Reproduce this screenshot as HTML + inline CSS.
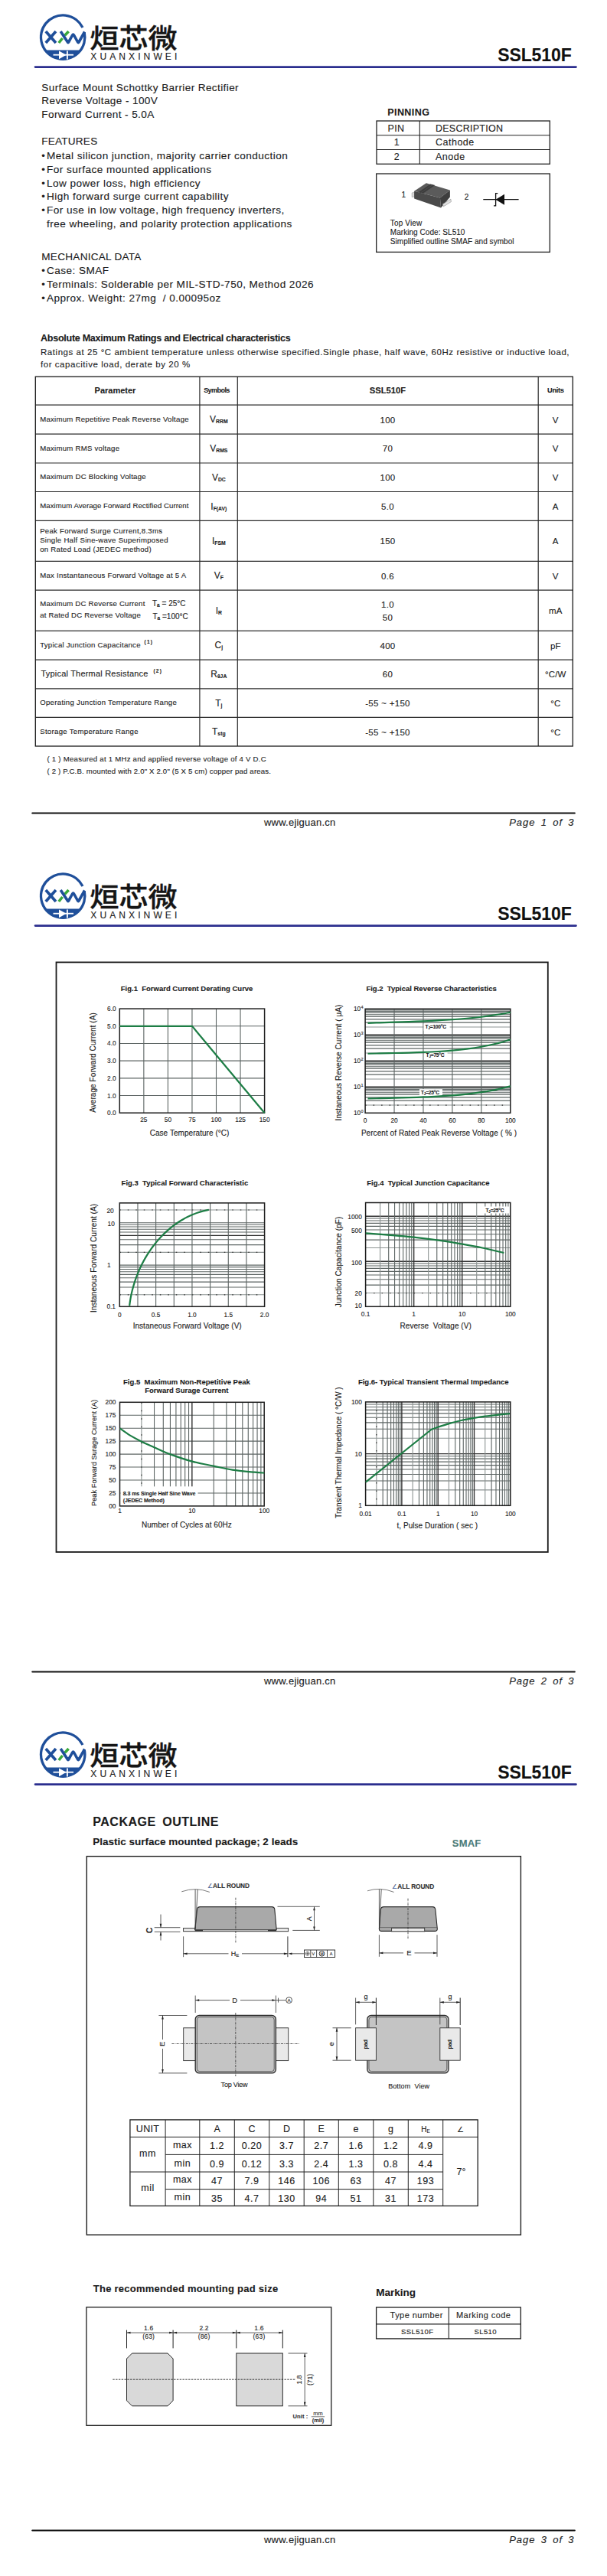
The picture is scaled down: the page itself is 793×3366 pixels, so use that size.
<!DOCTYPE html>
<html><head><meta charset="utf-8"><title>SSL510F</title>
<style>
html,body{margin:0;padding:0;background:#fff;}
body{width:793px;height:3366px;overflow:hidden;}
svg{display:block;font-family:'Liberation Sans', Arial, sans-serif;fill:#1c1c1c;}
text{stroke:#1c1c1c;stroke-width:0.12px;}
</style></head><body>
<svg width="793" height="1122" viewBox="0 0 793 1122"><path d="M58.93,65.40 A28.7,28.7 0 0 0 105.47,65.40 Z" fill="#1f4f9a"/>
<path d="M108.00,36.02 A28.7,28.7 0 1 0 110.27,42.63" fill="none" stroke="#1f4f9a" stroke-width="3.3"/>
<path d="M59.8,41 L73,56 M73,41 L59.8,56" stroke="#1f4f9a" stroke-width="3.7" fill="none"/>
<path d="M76.8,56 L81.6,50 M84.6,46.4 L89.6,41" stroke="#3aaa3c" stroke-width="3.6" fill="none"/>
<path d="M79.2,41 L88.4,55 Q88.9,56.2 89.6,55 L94.6,46 Q95.6,44.2 96.6,46 L101.6,55 Q102.3,56.2 103,55 L110.6,41.5" stroke="#1f4f9a" stroke-width="3.6" fill="none" stroke-linejoin="round"/>
<path d="M69.5,71.7 H96" stroke="#fff" stroke-width="1.8"/>
<path d="M77,66.6 L86.6,71.7 L77,77.2 Z" fill="#fff"/>
<path d="M87.9,66.4 V77.4" stroke="#fff" stroke-width="1.8"/>
<text transform="translate(117.3,63.2) scale(1.03,0.94)" font-size="37" font-weight="500" font-family="'Liberation Sans', 'Noto Sans CJK SC', sans-serif" fill="#151515" style="stroke:#151515;stroke-width:0.4px">烜芯微</text>
<text x="118.30" y="77.60" font-size="12.1" letter-spacing="4.05">XUANXINWEI</text>
<text x="650.20" y="79.70" font-size="23" font-weight="bold" letter-spacing="-0.1" fill="#111" style="stroke:#111">SSL510F</text>
<line x1="46.00" y1="87.60" x2="752.50" y2="87.60" stroke="#2b2e8e" stroke-width="2.6" stroke-linecap="round"/>
<text x="54.30" y="118.60" font-size="13.6" letter-spacing="0.38">Surface Mount Schottky Barrier Rectifier</text>
<text x="54.30" y="136.10" font-size="13.6" letter-spacing="0.38">Reverse Voltage - 100V</text>
<text x="54.30" y="153.60" font-size="13.6" letter-spacing="0.38">Forward Current - 5.0A</text>
<text x="54.30" y="189.40" font-size="13.6" letter-spacing="0.2">FEATURES</text>
<text x="54.30" y="207.60" font-size="13">•</text>
<text x="61.00" y="207.60" font-size="13.6" letter-spacing="0.45">Metal silicon junction, majority carrier conduction</text>
<text x="54.30" y="225.55" font-size="13">•</text>
<text x="61.00" y="225.55" font-size="13.6" letter-spacing="0.45">For surface mounted applications</text>
<text x="54.30" y="243.50" font-size="13">•</text>
<text x="61.00" y="243.50" font-size="13.6" letter-spacing="0.45">Low power loss, high efficiency</text>
<text x="54.30" y="261.45" font-size="13">•</text>
<text x="61.00" y="261.45" font-size="13.6" letter-spacing="0.45">High forward surge current capability</text>
<text x="54.30" y="279.40" font-size="13">•</text>
<text x="61.00" y="279.40" font-size="13.6" letter-spacing="0.45">For use in low voltage, high frequency inverters,</text>
<text x="61.00" y="297.35" font-size="13.6" letter-spacing="0.45">free wheeling, and polarity protection applications</text>
<text x="54.30" y="340.40" font-size="13.6" letter-spacing="0.25">MECHANICAL DATA</text>
<text x="54.30" y="358.20" font-size="13">•</text>
<text x="61.00" y="358.20" font-size="13.6" letter-spacing="0.45" xml:space="preserve">Case: SMAF</text>
<text x="54.30" y="376.00" font-size="13">•</text>
<text x="61.00" y="376.00" font-size="13.6" letter-spacing="0.45" xml:space="preserve">Terminals: Solderable per MIL-STD-750, Method 2026</text>
<text x="54.30" y="393.80" font-size="13">•</text>
<text x="61.00" y="393.80" font-size="13.6" letter-spacing="0.45" xml:space="preserve">Approx. Weight: 27mg  / 0.00095oz</text>
<text x="506.20" y="150.90" font-size="12.5" font-weight="bold" letter-spacing="0.45">PINNING</text>
<rect x="492.00" y="158.00" width="226.30" height="56.30" stroke="#222" stroke-width="1.3" fill="none" />
<line x1="492.00" y1="176.70" x2="718.30" y2="176.70" stroke="#222" stroke-width="1.1" />
<line x1="492.00" y1="195.50" x2="718.30" y2="195.50" stroke="#222" stroke-width="1.1" />
<line x1="548.30" y1="158.00" x2="548.30" y2="214.30" stroke="#222" stroke-width="1.1" />
<text x="506.50" y="172.30" font-size="12.5" letter-spacing="0.4">PIN</text>
<text x="569.00" y="172.30" font-size="12.5" letter-spacing="0.25">DESCRIPTION</text>
<text x="514.80" y="190.40" font-size="12.5">1</text>
<text x="569.00" y="190.40" font-size="12.5" letter-spacing="0.5">Cathode</text>
<text x="514.80" y="209.00" font-size="12.5">2</text>
<text x="569.00" y="209.00" font-size="12.5" letter-spacing="0.5">Anode</text>
<rect x="491.70" y="227.00" width="226.60" height="102.40" stroke="#222" stroke-width="1.3" fill="none" />
<text x="524.50" y="258.40" font-size="10">1</text>
<text x="606.80" y="260.80" font-size="10">2</text>
<polygon points="538.20,252.00 541.50,251.00 541.50,257.00 538.20,257.50" fill="#d8d8d8" stroke="#9a9a9a" stroke-width="0.6"/>
<polygon points="541.10,249.80 556.90,239.20 587.90,248.40 574.90,258.40" fill="#5b5b5b"/>
<polygon points="541.10,249.80 574.90,258.40 576.00,271.50 541.10,259.60" fill="#4a4a4a"/>
<polygon points="574.90,258.40 587.90,248.40 587.90,257.50 576.00,271.50" fill="#3e3e3e"/>
<polygon points="546.51,251.18 562.31,240.58 568.39,242.12 552.59,252.72" fill="#3d3d3d"/>
<line x1="549.55" y1="251.95" x2="565.35" y2="241.35" stroke="#555" stroke-width="0.6"/>
<polygon points="578.30,266.80 588.90,260.20 589.40,263.60 579.40,269.80" fill="#e2e2e2" stroke="#8a8a8a" stroke-width="0.6"/>
<line x1="631.30" y1="260.70" x2="677.60" y2="260.70" stroke="#111" stroke-width="1.3" />
<path d="M647.5,260.7 L659,253.8 L659,267.8 Z" fill="#111"/>
<path d="M650.3,252.6 L647.6,252.6 L647.6,268.8 L645,268.8" fill="none" stroke="#111" stroke-width="1.3"/>
<text x="509.80" y="294.90" font-size="10" letter-spacing="0.15">Top View</text>
<text x="509.80" y="306.90" font-size="10" letter-spacing="0.05">Marking Code: SL510</text>
<text x="509.80" y="319.20" font-size="10" letter-spacing="0.05">Simplified outline SMAF and symbol</text>
<text x="53.00" y="446.10" font-size="12.6" font-weight="bold" letter-spacing="-0.3">Absolute Maximum Ratings and Electrical characteristics</text>
<text x="53.00" y="464.20" font-size="11.5" letter-spacing="0.55">Ratings at 25 °C ambient temperature unless otherwise specified.Single phase, half wave, 60Hz resistive or inductive load,</text>
<text x="53.00" y="480.00" font-size="11.5" letter-spacing="0.55">for capacitive load, derate by 20 %</text>
<line x1="46.30" y1="529.20" x2="748.30" y2="529.20" stroke="#2a2a2a" stroke-width="1.2" />
<line x1="46.30" y1="567.20" x2="748.30" y2="567.20" stroke="#2a2a2a" stroke-width="1.2" />
<line x1="46.30" y1="605.00" x2="748.30" y2="605.00" stroke="#2a2a2a" stroke-width="1.2" />
<line x1="46.30" y1="642.50" x2="748.30" y2="642.50" stroke="#2a2a2a" stroke-width="1.2" />
<line x1="46.30" y1="680.30" x2="748.30" y2="680.30" stroke="#2a2a2a" stroke-width="1.2" />
<line x1="46.30" y1="733.30" x2="748.30" y2="733.30" stroke="#2a2a2a" stroke-width="1.2" />
<line x1="46.30" y1="771.20" x2="748.30" y2="771.20" stroke="#2a2a2a" stroke-width="1.2" />
<line x1="46.30" y1="824.30" x2="748.30" y2="824.30" stroke="#2a2a2a" stroke-width="1.2" />
<line x1="46.30" y1="862.10" x2="748.30" y2="862.10" stroke="#2a2a2a" stroke-width="1.2" />
<line x1="46.30" y1="899.80" x2="748.30" y2="899.80" stroke="#2a2a2a" stroke-width="1.2" />
<line x1="46.30" y1="937.40" x2="748.30" y2="937.40" stroke="#2a2a2a" stroke-width="1.2" />
<line x1="260.90" y1="492.20" x2="260.90" y2="975.00" stroke="#2a2a2a" stroke-width="1.2" />
<line x1="310.30" y1="492.20" x2="310.30" y2="975.00" stroke="#2a2a2a" stroke-width="1.2" />
<line x1="703.20" y1="492.20" x2="703.20" y2="975.00" stroke="#2a2a2a" stroke-width="1.2" />
<rect x="46.30" y="492.20" width="702.00" height="482.80" stroke="#1a1a1a" stroke-width="1.3" fill="none" />
<text x="150.50" y="514.30" font-size="11" font-weight="bold" text-anchor="middle">Parameter</text>
<text x="283.00" y="513.20" font-size="9" font-weight="bold" letter-spacing="-0.55" text-anchor="middle">Symbols</text>
<text x="506.50" y="514.30" font-size="11.2" font-weight="bold" text-anchor="middle">SSL510F</text>
<text x="725.80" y="513.30" font-size="9.2" font-weight="bold" letter-spacing="-0.3" text-anchor="middle">Units</text>
<text x="52.20" y="550.80" font-size="9.6" letter-spacing="0.26">Maximum Repetitive Peak Reverse Voltage</text>
<text x="285.80" y="552.40" text-anchor="middle" font-size="12">V<tspan font-size="6.8" dy="1" font-weight="bold">RRM</tspan></text>
<text x="506.50" y="552.50" font-size="11.5" letter-spacing="0.3" text-anchor="middle">100</text>
<text x="725.80" y="552.50" font-size="11.5" letter-spacing="0.2" text-anchor="middle">V</text>
<text x="52.20" y="588.70" font-size="9.6" letter-spacing="0.26">Maximum RMS voltage</text>
<text x="285.80" y="590.30" text-anchor="middle" font-size="12">V<tspan font-size="6.8" dy="1" font-weight="bold">RMS</tspan></text>
<text x="506.50" y="590.40" font-size="11.5" letter-spacing="0.3" text-anchor="middle">70</text>
<text x="725.80" y="590.40" font-size="11.5" letter-spacing="0.2" text-anchor="middle">V</text>
<text x="52.20" y="626.35" font-size="9.6" letter-spacing="0.26">Maximum DC Blocking Voltage</text>
<text x="285.80" y="627.95" text-anchor="middle" font-size="12">V<tspan font-size="6.8" dy="1" font-weight="bold">DC</tspan></text>
<text x="506.50" y="628.05" font-size="11.5" letter-spacing="0.3" text-anchor="middle">100</text>
<text x="725.80" y="628.05" font-size="11.5" letter-spacing="0.2" text-anchor="middle">V</text>
<text x="52.20" y="664.00" font-size="9.6" letter-spacing="0.06">Maximum Average Forward Rectified Current</text>
<text x="285.80" y="665.60" text-anchor="middle" font-size="12">I<tspan font-size="6.8" dy="1" font-weight="bold">F(AV)</tspan></text>
<text x="506.50" y="665.70" font-size="11.5" letter-spacing="0.3" text-anchor="middle">5.0</text>
<text x="725.80" y="665.70" font-size="11.5" letter-spacing="0.2" text-anchor="middle">A</text>
<text x="52.20" y="697.00" font-size="9.6" letter-spacing="0.27">Peak Forward Surge Current,8.3ms</text>
<text x="52.20" y="709.10" font-size="9.6" letter-spacing="0.27">Single Half Sine-wave Superimposed</text>
<text x="52.20" y="721.20" font-size="9.6" letter-spacing="0.27">on Rated Load (JEDEC method)</text>
<text x="285.80" y="711.00" text-anchor="middle" font-size="12">I<tspan font-size="6.8" dy="1" font-weight="bold">FSM</tspan></text>
<text x="506.50" y="711.10" font-size="11.5" letter-spacing="0.3" text-anchor="middle">150</text>
<text x="725.80" y="711.10" font-size="11.5" letter-spacing="0.2" text-anchor="middle">A</text>
<text x="52.20" y="754.85" font-size="9.6" letter-spacing="0.26">Max Instantaneous Forward Voltage at 5 A</text>
<text x="285.80" y="756.45" text-anchor="middle" font-size="12">V<tspan font-size="6.8" dy="1" font-weight="bold">F</tspan></text>
<text x="506.50" y="756.55" font-size="11.5" letter-spacing="0.3" text-anchor="middle">0.6</text>
<text x="725.80" y="756.55" font-size="11.5" letter-spacing="0.2" text-anchor="middle">V</text>
<text x="52.20" y="792.40" font-size="9.6" letter-spacing="0.24">Maximum DC Reverse Current</text>
<text x="52.20" y="806.90" font-size="9.6" letter-spacing="0.22">at Rated DC Reverse Voltage</text>
<text x="285.80" y="801.95" text-anchor="middle" font-size="12">I<tspan font-size="6.8" dy="1" font-weight="bold">R</tspan></text>
<text x="506.50" y="794.30" font-size="11.5" letter-spacing="0.3" text-anchor="middle">1.0</text>
<text x="506.50" y="810.90" font-size="11.5" letter-spacing="0.3" text-anchor="middle">50</text>
<text x="725.80" y="802.05" font-size="11.5" letter-spacing="0.2" text-anchor="middle">mA</text>
<text x="52.20" y="845.80" font-size="9.6" letter-spacing="0.26">Typical Junction Capacitance</text>
<text x="285.80" y="847.40" text-anchor="middle" font-size="12">C<tspan font-size="6.8" dy="1" font-weight="bold">j</tspan></text>
<text x="506.50" y="847.50" font-size="11.5" letter-spacing="0.3" text-anchor="middle">400</text>
<text x="725.80" y="847.50" font-size="11.5" letter-spacing="0.2" text-anchor="middle">pF</text>
<text x="53.50" y="884.35" font-size="11" letter-spacing="0.2">Typical Thermal Resistance</text>
<text x="285.80" y="885.15" text-anchor="middle" font-size="12">R<tspan font-size="6.8" dy="1" font-weight="bold">θJA</tspan></text>
<text x="506.50" y="885.25" font-size="11.5" letter-spacing="0.3" text-anchor="middle">60</text>
<text x="725.80" y="885.25" font-size="11.5" letter-spacing="0.2" text-anchor="middle">°C/W</text>
<text x="52.20" y="921.20" font-size="9.6" letter-spacing="0.31">Operating Junction Temperature Range</text>
<text x="285.80" y="922.80" text-anchor="middle" font-size="12">T<tspan font-size="6.8" dy="1" font-weight="bold">j</tspan></text>
<text x="506.50" y="922.90" font-size="11.5" letter-spacing="0.3" text-anchor="middle">-55 ~ +150</text>
<text x="725.80" y="922.90" font-size="11.5" letter-spacing="0.2" text-anchor="middle">°C</text>
<text x="52.20" y="958.80" font-size="9.6" letter-spacing="0.31">Storage Temperature Range</text>
<text x="285.80" y="960.40" text-anchor="middle" font-size="12">T<tspan font-size="6.8" dy="1" font-weight="bold">stg</tspan></text>
<text x="506.50" y="960.50" font-size="11.5" letter-spacing="0.3" text-anchor="middle">-55 ~ +150</text>
<text x="725.80" y="960.50" font-size="11.5" letter-spacing="0.2" text-anchor="middle">°C</text>
<text x="199" y="792.4" font-size="10">T<tspan font-size="6.5" dy="1" font-weight="bold">a</tspan><tspan dy="-1"> = 25°C</tspan></text>
<text x="199.5" y="809" font-size="10">T<tspan font-size="6.5" dy="1" font-weight="bold">a</tspan><tspan dy="-1"> =100°C</tspan></text>
<text x="188.60" y="840.50" font-size="6.5" font-weight="bold" letter-spacing="-0.3">( 1 )</text>
<text x="200.50" y="878.80" font-size="6.5" font-weight="bold" letter-spacing="-0.3">( 2 )</text>
<text x="61.50" y="994.60" font-size="9.6" letter-spacing="0.25">( 1 ) Measured at 1 MHz and applied reverse voltage of 4 V D.C</text>
<text x="61.50" y="1010.60" font-size="9.6" letter-spacing="0.18">( 2 ) P.C.B. mounted with 2.0" X 2.0" (5 X 5 cm) copper pad areas.</text>
<line x1="42.30" y1="1062.50" x2="750.80" y2="1062.50" stroke="#111" stroke-width="2.2" stroke-linecap="round"/>
<text x="345.00" y="1079.20" font-size="13" letter-spacing="0.22">www.ejiguan.cn</text>
<text x="665.20" y="1078.60" font-size="13" letter-spacing="1.0" word-spacing="2.6" font-style="italic">Page 1 of 3</text></svg><svg width="793" height="1122" viewBox="0 0 793 1122"><path d="M58.93,65.40 A28.7,28.7 0 0 0 105.47,65.40 Z" fill="#1f4f9a"/>
<path d="M108.00,36.02 A28.7,28.7 0 1 0 110.27,42.63" fill="none" stroke="#1f4f9a" stroke-width="3.3"/>
<path d="M59.8,41 L73,56 M73,41 L59.8,56" stroke="#1f4f9a" stroke-width="3.7" fill="none"/>
<path d="M76.8,56 L81.6,50 M84.6,46.4 L89.6,41" stroke="#3aaa3c" stroke-width="3.6" fill="none"/>
<path d="M79.2,41 L88.4,55 Q88.9,56.2 89.6,55 L94.6,46 Q95.6,44.2 96.6,46 L101.6,55 Q102.3,56.2 103,55 L110.6,41.5" stroke="#1f4f9a" stroke-width="3.6" fill="none" stroke-linejoin="round"/>
<path d="M69.5,71.7 H96" stroke="#fff" stroke-width="1.8"/>
<path d="M77,66.6 L86.6,71.7 L77,77.2 Z" fill="#fff"/>
<path d="M87.9,66.4 V77.4" stroke="#fff" stroke-width="1.8"/>
<text transform="translate(117.3,63.2) scale(1.03,0.94)" font-size="37" font-weight="500" font-family="'Liberation Sans', 'Noto Sans CJK SC', sans-serif" fill="#151515" style="stroke:#151515;stroke-width:0.4px">烜芯微</text>
<text x="118.30" y="77.60" font-size="12.1" letter-spacing="4.05">XUANXINWEI</text>
<text x="650.20" y="79.70" font-size="23" font-weight="bold" letter-spacing="-0.1" fill="#111" style="stroke:#111">SSL510F</text>
<line x1="46.00" y1="87.60" x2="752.50" y2="87.60" stroke="#2b2e8e" stroke-width="2.6" stroke-linecap="round"/>
<rect x="73.50" y="135.40" width="642.30" height="770.60" stroke="#1a1a1a" stroke-width="1.8" fill="none" />
<line x1="187.85" y1="196.10" x2="187.85" y2="332.20" stroke="#5c6463" stroke-width="1.1" />
<line x1="219.40" y1="196.10" x2="219.40" y2="332.20" stroke="#5c6463" stroke-width="1.1" />
<line x1="250.95" y1="196.10" x2="250.95" y2="332.20" stroke="#5c6463" stroke-width="1.1" />
<line x1="282.50" y1="196.10" x2="282.50" y2="332.20" stroke="#5c6463" stroke-width="1.1" />
<line x1="314.05" y1="196.10" x2="314.05" y2="332.20" stroke="#5c6463" stroke-width="1.1" />
<line x1="156.30" y1="218.78" x2="345.60" y2="218.78" stroke="#5c6463" stroke-width="1.1" />
<line x1="156.30" y1="241.47" x2="345.60" y2="241.47" stroke="#5c6463" stroke-width="1.1" />
<line x1="156.30" y1="264.15" x2="345.60" y2="264.15" stroke="#5c6463" stroke-width="1.1" />
<line x1="156.30" y1="286.83" x2="345.60" y2="286.83" stroke="#5c6463" stroke-width="1.1" />
<line x1="156.30" y1="309.52" x2="345.60" y2="309.52" stroke="#5c6463" stroke-width="1.1" />
<rect x="156.30" y="196.10" width="189.30" height="136.10" stroke="#1e1e1e" stroke-width="1.5" fill="none" />
<path d="M156.30,218.78 L250.95,218.78 L345.60,332.20" fill="none" stroke="#1d7d45" stroke-width="2.2"/>
<text x="151.60" y="335.20" font-size="8.3" text-anchor="end">0.0</text>
<text x="151.60" y="312.52" font-size="8.3" text-anchor="end">1.0</text>
<text x="151.60" y="289.83" font-size="8.3" text-anchor="end">2.0</text>
<text x="151.60" y="267.15" font-size="8.3" text-anchor="end">3.0</text>
<text x="151.60" y="244.47" font-size="8.3" text-anchor="end">4.0</text>
<text x="151.60" y="221.78" font-size="8.3" text-anchor="end">5.0</text>
<text x="151.60" y="199.10" font-size="8.3" text-anchor="end">6.0</text>
<text x="187.85" y="344.20" font-size="8.3" text-anchor="middle">25</text>
<text x="219.40" y="344.20" font-size="8.3" text-anchor="middle">50</text>
<text x="250.95" y="344.20" font-size="8.3" text-anchor="middle">75</text>
<text x="282.50" y="344.20" font-size="8.3" text-anchor="middle">100</text>
<text x="314.05" y="344.20" font-size="8.3" text-anchor="middle">125</text>
<text x="345.60" y="344.20" font-size="8.3" text-anchor="middle">150</text>
<text x="157.80" y="173.40" font-size="9.5" font-weight="bold" xml:space="preserve">Fig.1  Forward Current Derating Curve</text>
<text x="247.60" y="361.90" font-size="10" letter-spacing="0.05" text-anchor="middle">Case Temperature (°C)</text>
<text transform="translate(125.10,266.50) rotate(-90)" text-anchor="middle" font-size="10" letter-spacing="0.07">Average Forward Current (A)</text>
<line x1="477.10" y1="322.06" x2="666.80" y2="322.06" stroke="#8d9493" stroke-width="1.1" />
<line x1="477.10" y1="322.06" x2="666.80" y2="322.06" stroke="#333" stroke-width="1.2" stroke-dasharray="1.5,9"/>
<line x1="477.10" y1="316.08" x2="666.80" y2="316.08" stroke="#5c6463" stroke-width="1.1" />
<line x1="477.10" y1="311.83" x2="666.80" y2="311.83" stroke="#5c6463" stroke-width="1.1" />
<line x1="477.10" y1="308.54" x2="666.80" y2="308.54" stroke="#5c6463" stroke-width="1.1" />
<line x1="477.10" y1="305.84" x2="666.80" y2="305.84" stroke="#5c6463" stroke-width="1.1" />
<line x1="477.10" y1="303.57" x2="666.80" y2="303.57" stroke="#5c6463" stroke-width="1.1" />
<line x1="477.10" y1="301.59" x2="666.80" y2="301.59" stroke="#5c6463" stroke-width="1.1" />
<line x1="477.10" y1="299.86" x2="666.80" y2="299.86" stroke="#5c6463" stroke-width="1.1" />
<line x1="477.10" y1="298.30" x2="666.80" y2="298.30" stroke="#333" stroke-width="1.4" />
<line x1="477.10" y1="288.06" x2="666.80" y2="288.06" stroke="#8d9493" stroke-width="1.1" />
<line x1="477.10" y1="282.08" x2="666.80" y2="282.08" stroke="#5c6463" stroke-width="1.1" />
<line x1="477.10" y1="277.83" x2="666.80" y2="277.83" stroke="#5c6463" stroke-width="1.1" />
<line x1="477.10" y1="274.54" x2="666.80" y2="274.54" stroke="#5c6463" stroke-width="1.1" />
<line x1="477.10" y1="271.84" x2="666.80" y2="271.84" stroke="#5c6463" stroke-width="1.1" />
<line x1="477.10" y1="269.57" x2="666.80" y2="269.57" stroke="#5c6463" stroke-width="1.1" />
<line x1="477.10" y1="267.59" x2="666.80" y2="267.59" stroke="#5c6463" stroke-width="1.1" />
<line x1="477.10" y1="265.86" x2="666.80" y2="265.86" stroke="#5c6463" stroke-width="1.1" />
<line x1="477.10" y1="264.30" x2="666.80" y2="264.30" stroke="#333" stroke-width="1.4" />
<line x1="477.10" y1="254.06" x2="666.80" y2="254.06" stroke="#8d9493" stroke-width="1.1" />
<line x1="477.10" y1="248.08" x2="666.80" y2="248.08" stroke="#5c6463" stroke-width="1.1" />
<line x1="477.10" y1="243.83" x2="666.80" y2="243.83" stroke="#5c6463" stroke-width="1.1" />
<line x1="477.10" y1="240.54" x2="666.80" y2="240.54" stroke="#5c6463" stroke-width="1.1" />
<line x1="477.10" y1="237.84" x2="666.80" y2="237.84" stroke="#5c6463" stroke-width="1.1" />
<line x1="477.10" y1="235.57" x2="666.80" y2="235.57" stroke="#5c6463" stroke-width="1.1" />
<line x1="477.10" y1="233.59" x2="666.80" y2="233.59" stroke="#5c6463" stroke-width="1.1" />
<line x1="477.10" y1="231.86" x2="666.80" y2="231.86" stroke="#5c6463" stroke-width="1.1" />
<line x1="477.10" y1="230.30" x2="666.80" y2="230.30" stroke="#333" stroke-width="1.4" />
<line x1="477.10" y1="220.06" x2="666.80" y2="220.06" stroke="#8d9493" stroke-width="1.1" />
<line x1="477.10" y1="214.08" x2="666.80" y2="214.08" stroke="#5c6463" stroke-width="1.1" />
<line x1="477.10" y1="209.83" x2="666.80" y2="209.83" stroke="#5c6463" stroke-width="1.1" />
<line x1="477.10" y1="206.54" x2="666.80" y2="206.54" stroke="#5c6463" stroke-width="1.1" />
<line x1="477.10" y1="203.84" x2="666.80" y2="203.84" stroke="#5c6463" stroke-width="1.1" />
<line x1="477.10" y1="201.57" x2="666.80" y2="201.57" stroke="#5c6463" stroke-width="1.1" />
<line x1="477.10" y1="199.59" x2="666.80" y2="199.59" stroke="#5c6463" stroke-width="1.1" />
<line x1="477.10" y1="197.86" x2="666.80" y2="197.86" stroke="#5c6463" stroke-width="1.1" />
<line x1="515.04" y1="196.30" x2="515.04" y2="332.30" stroke="#5c6463" stroke-width="1.1" />
<line x1="552.98" y1="196.30" x2="552.98" y2="332.30" stroke="#5c6463" stroke-width="1.1" />
<line x1="590.92" y1="196.30" x2="590.92" y2="332.30" stroke="#5c6463" stroke-width="1.1" />
<line x1="628.86" y1="196.30" x2="628.86" y2="332.30" stroke="#5c6463" stroke-width="1.1" />
<rect x="477.10" y="196.30" width="189.70" height="136.00" stroke="#1e1e1e" stroke-width="1.5" fill="none" />
<rect x="553.60" y="215.30" width="34.00" height="9.50" stroke="none" stroke-width="0" fill="#fff" />
<path d="M480.51,214.79 C483.11,214.71 490.32,214.48 496.07,214.30 C501.82,214.12 508.72,213.90 515.04,213.69 C521.36,213.48 527.69,213.27 534.01,213.03 C540.33,212.80 546.66,212.57 552.98,212.29 C559.30,212.02 565.63,211.73 571.95,211.39 C578.27,211.05 584.60,210.69 590.92,210.25 C597.24,209.81 603.57,209.33 609.89,208.76 C616.21,208.18 622.54,207.54 628.86,206.78 C635.18,206.02 641.51,205.18 647.83,204.19 C654.15,203.19 663.64,201.36 666.80,200.80" fill="none" stroke="#1d7d45" stroke-width="2.2"/>
<text x="555.6" y="221.79999999999995" font-size="6.6" font-weight="bold" letter-spacing="-0.2">T<tspan font-size="4.5" dy="1">J</tspan><tspan dy="-1">=100°C</tspan></text>
<rect x="554.60" y="252.90" width="30.00" height="9.50" stroke="none" stroke-width="0" fill="#fff" />
<path d="M480.51,254.73 C483.11,254.68 490.32,254.54 496.07,254.42 C501.82,254.30 508.72,254.16 515.04,254.02 C521.36,253.87 527.69,253.73 534.01,253.54 C540.33,253.36 546.66,253.17 552.98,252.91 C559.30,252.65 565.63,252.37 571.95,251.99 C578.27,251.61 584.60,251.19 590.92,250.63 C597.24,250.07 603.57,249.44 609.89,248.63 C616.21,247.83 622.54,246.92 628.86,245.78 C635.18,244.64 641.51,243.36 647.83,241.80 C654.15,240.24 663.64,237.30 666.80,236.40" fill="none" stroke="#1d7d45" stroke-width="2.2"/>
<text x="556.6" y="259.4000000000001" font-size="6.6" font-weight="bold" letter-spacing="-0.2">T<tspan font-size="4.5" dy="1">J</tspan><tspan dy="-1">=75°C</tspan></text>
<rect x="548.00" y="301.10" width="30.00" height="9.50" stroke="none" stroke-width="0" fill="#fff" />
<path d="M480.51,313.52 C483.11,313.45 490.32,313.28 496.07,313.14 C501.82,313.00 508.72,312.83 515.04,312.66 C521.36,312.49 527.69,312.33 534.01,312.13 C540.33,311.93 546.66,311.72 552.98,311.46 C559.30,311.20 565.63,310.93 571.95,310.57 C578.27,310.22 584.60,309.83 590.92,309.34 C597.24,308.84 603.57,308.29 609.89,307.59 C616.21,306.90 622.54,306.13 628.86,305.17 C635.18,304.21 641.51,303.14 647.83,301.85 C654.15,300.55 663.64,298.14 666.80,297.40" fill="none" stroke="#1d7d45" stroke-width="2.2"/>
<text x="550.0" y="307.5999999999999" font-size="6.6" font-weight="bold" letter-spacing="-0.2">T<tspan font-size="4.5" dy="1">J</tspan><tspan dy="-1">=25°C</tspan></text>
<text x="471.2" y="335.10" font-size="8.3" text-anchor="end">10</text>
<text x="471.6" y="331.70" font-size="5.6">0</text>
<text x="471.2" y="301.10" font-size="8.3" text-anchor="end">10</text>
<text x="471.6" y="297.70" font-size="5.6">1</text>
<text x="471.2" y="267.10" font-size="8.3" text-anchor="end">10</text>
<text x="471.6" y="263.70" font-size="5.6">2</text>
<text x="471.2" y="233.10" font-size="8.3" text-anchor="end">10</text>
<text x="471.6" y="229.70" font-size="5.6">3</text>
<text x="471.2" y="199.10" font-size="8.3" text-anchor="end">10</text>
<text x="471.6" y="195.70" font-size="5.6">4</text>
<text x="477.10" y="345.30" font-size="8.3" text-anchor="middle">0</text>
<text x="515.04" y="345.30" font-size="8.3" text-anchor="middle">20</text>
<text x="552.98" y="345.30" font-size="8.3" text-anchor="middle">40</text>
<text x="590.92" y="345.30" font-size="8.3" text-anchor="middle">60</text>
<text x="628.86" y="345.30" font-size="8.3" text-anchor="middle">80</text>
<text x="666.80" y="345.30" font-size="8.3" text-anchor="middle">100</text>
<text x="478.40" y="173.40" font-size="9.5" font-weight="bold" xml:space="preserve">Fig.2  Typical Reverse Characteristics</text>
<text x="573.50" y="361.60" font-size="10" letter-spacing="0.06" text-anchor="middle">Percent of Rated Peak Reverse Voltage ( % )</text>
<text transform="translate(446.40,266.50) rotate(-90)" text-anchor="middle" font-size="10" letter-spacing="0.07">Instaneous Reverse Current ( μA)</text>
<line x1="156.30" y1="569.82" x2="345.60" y2="569.82" stroke="#8d9493" stroke-width="1.1" />
<line x1="156.30" y1="569.82" x2="345.60" y2="569.82" stroke="#333" stroke-width="1.2" stroke-dasharray="1.5,9"/>
<line x1="156.30" y1="560.07" x2="345.60" y2="560.07" stroke="#5c6463" stroke-width="1.1" />
<line x1="156.30" y1="553.15" x2="345.60" y2="553.15" stroke="#5c6463" stroke-width="1.1" />
<line x1="156.30" y1="547.78" x2="345.60" y2="547.78" stroke="#5c6463" stroke-width="1.1" />
<line x1="156.30" y1="543.39" x2="345.60" y2="543.39" stroke="#5c6463" stroke-width="1.1" />
<line x1="156.30" y1="539.68" x2="345.60" y2="539.68" stroke="#5c6463" stroke-width="1.1" />
<line x1="156.30" y1="536.47" x2="345.60" y2="536.47" stroke="#5c6463" stroke-width="1.1" />
<line x1="156.30" y1="533.63" x2="345.60" y2="533.63" stroke="#5c6463" stroke-width="1.1" />
<line x1="156.30" y1="531.10" x2="345.60" y2="531.10" stroke="#5c6463" stroke-width="1.1" />
<line x1="156.30" y1="514.42" x2="345.60" y2="514.42" stroke="#8d9493" stroke-width="1.1" />
<line x1="156.30" y1="514.42" x2="345.60" y2="514.42" stroke="#333" stroke-width="1.2" stroke-dasharray="1.5,9"/>
<line x1="156.30" y1="504.67" x2="345.60" y2="504.67" stroke="#5c6463" stroke-width="1.1" />
<line x1="156.30" y1="497.75" x2="345.60" y2="497.75" stroke="#5c6463" stroke-width="1.1" />
<line x1="156.30" y1="492.38" x2="345.60" y2="492.38" stroke="#333" stroke-width="1.4" />
<line x1="156.30" y1="487.99" x2="345.60" y2="487.99" stroke="#5c6463" stroke-width="1.1" />
<line x1="156.30" y1="484.28" x2="345.60" y2="484.28" stroke="#5c6463" stroke-width="1.1" />
<line x1="156.30" y1="481.07" x2="345.60" y2="481.07" stroke="#5c6463" stroke-width="1.1" />
<line x1="156.30" y1="478.23" x2="345.60" y2="478.23" stroke="#5c6463" stroke-width="1.1" />
<line x1="156.30" y1="475.70" x2="345.60" y2="475.70" stroke="#5c6463" stroke-width="1.1" />
<line x1="156.30" y1="459.02" x2="345.60" y2="459.02" stroke="#8d9493" stroke-width="1.1" />
<line x1="156.30" y1="459.02" x2="345.60" y2="459.02" stroke="#333" stroke-width="1.2" stroke-dasharray="1.5,9"/>
<line x1="179.96" y1="449.90" x2="179.96" y2="585.30" stroke="#5c6463" stroke-width="1.1" />
<line x1="203.62" y1="449.90" x2="203.62" y2="585.30" stroke="#5c6463" stroke-width="1.1" />
<line x1="227.29" y1="449.90" x2="227.29" y2="585.30" stroke="#5c6463" stroke-width="1.1" />
<line x1="250.95" y1="449.90" x2="250.95" y2="585.30" stroke="#5c6463" stroke-width="1.1" />
<line x1="274.61" y1="449.90" x2="274.61" y2="585.30" stroke="#5c6463" stroke-width="1.1" />
<line x1="298.28" y1="449.90" x2="298.28" y2="585.30" stroke="#5c6463" stroke-width="1.1" />
<line x1="321.94" y1="449.90" x2="321.94" y2="585.30" stroke="#5c6463" stroke-width="1.1" />
<rect x="156.30" y="449.90" width="189.30" height="135.40" stroke="#1e1e1e" stroke-width="1.5" fill="none" />
<path d="M169.13,584.37 C169.29,583.20 169.72,579.68 170.09,577.34 C170.47,574.99 170.90,572.64 171.38,570.31 C171.87,567.97 172.41,565.63 173.00,563.30 C173.59,560.97 174.24,558.64 174.93,556.33 C175.63,554.02 176.38,551.72 177.18,549.43 C177.99,547.15 178.84,544.87 179.74,542.62 C180.65,540.37 181.60,538.13 182.61,535.91 C183.61,533.70 184.67,531.50 185.77,529.33 C186.87,527.17 188.02,525.02 189.22,522.90 C190.42,520.79 191.67,518.70 192.97,516.65 C194.26,514.59 195.61,512.57 197.00,510.58 C198.39,508.59 199.82,506.64 201.30,504.72 C202.78,502.81 204.31,500.94 205.88,499.10 C207.45,497.27 209.07,495.48 210.73,493.74 C212.39,492.00 214.09,490.30 215.84,488.65 C217.59,487.00 219.38,485.40 221.21,483.86 C223.04,482.31 224.91,480.82 226.83,479.38 C228.74,477.95 230.70,476.57 232.69,475.25 C234.69,473.93 236.73,472.67 238.80,471.47 C240.88,470.28 242.99,469.15 245.15,468.08 C247.30,467.02 249.49,466.02 251.72,465.09 C253.95,464.17 256.22,463.31 258.52,462.53 C260.83,461.75 263.17,461.04 265.55,460.41 C267.93,459.78 271.58,459.03 272.79,458.75" fill="none" stroke="#1d7d45" stroke-width="2.2"/>
<text x="144.00" y="463.30" font-size="8.3" text-anchor="middle">20</text>
<text x="145.20" y="480.10" font-size="8.3" text-anchor="middle">10</text>
<text x="142.40" y="533.90" font-size="8.3" text-anchor="middle">1</text>
<text x="145.20" y="588.30" font-size="8.3" text-anchor="middle">0.1</text>
<text x="156.30" y="598.50" font-size="8.3" text-anchor="middle">0</text>
<text x="203.62" y="598.50" font-size="8.3" text-anchor="middle">0.5</text>
<text x="250.95" y="598.50" font-size="8.3" text-anchor="middle">1.0</text>
<text x="298.28" y="598.50" font-size="8.3" text-anchor="middle">1.5</text>
<text x="345.60" y="598.50" font-size="8.3" text-anchor="middle">2.0</text>
<text x="158.60" y="426.50" font-size="9.5" font-weight="bold" xml:space="preserve">Fig.3  Typical Forward Characteristic</text>
<text x="244.70" y="613.90" font-size="10" letter-spacing="0.05" text-anchor="middle">Instaneous Forward Voltage (V)</text>
<text transform="translate(126.00,522.00) rotate(-90)" text-anchor="middle" font-size="10" letter-spacing="0.05">Instaneous Forward Current  (A)</text>
<line x1="477.60" y1="567.53" x2="666.80" y2="567.53" stroke="#8d9493" stroke-width="1.1" />
<line x1="477.60" y1="567.53" x2="666.80" y2="567.53" stroke="#333" stroke-width="1.2" stroke-dasharray="1.5,9"/>
<line x1="477.60" y1="557.14" x2="666.80" y2="557.14" stroke="#5c6463" stroke-width="1.1" />
<line x1="477.60" y1="549.77" x2="666.80" y2="549.77" stroke="#5c6463" stroke-width="1.1" />
<line x1="477.60" y1="544.05" x2="666.80" y2="544.05" stroke="#5c6463" stroke-width="1.1" />
<line x1="477.60" y1="539.38" x2="666.80" y2="539.38" stroke="#5c6463" stroke-width="1.1" />
<line x1="477.60" y1="535.42" x2="666.80" y2="535.42" stroke="#5c6463" stroke-width="1.1" />
<line x1="477.60" y1="532.00" x2="666.80" y2="532.00" stroke="#5c6463" stroke-width="1.1" />
<line x1="477.60" y1="528.98" x2="666.80" y2="528.98" stroke="#5c6463" stroke-width="1.1" />
<line x1="477.60" y1="526.28" x2="666.80" y2="526.28" stroke="#333" stroke-width="1.4" />
<line x1="477.60" y1="508.52" x2="666.80" y2="508.52" stroke="#8d9493" stroke-width="1.1" />
<line x1="477.60" y1="498.12" x2="666.80" y2="498.12" stroke="#5c6463" stroke-width="1.1" />
<line x1="477.60" y1="490.75" x2="666.80" y2="490.75" stroke="#5c6463" stroke-width="1.1" />
<line x1="477.60" y1="485.03" x2="666.80" y2="485.03" stroke="#5c6463" stroke-width="1.1" />
<line x1="477.60" y1="480.36" x2="666.80" y2="480.36" stroke="#5c6463" stroke-width="1.1" />
<line x1="477.60" y1="476.41" x2="666.80" y2="476.41" stroke="#5c6463" stroke-width="1.1" />
<line x1="477.60" y1="472.99" x2="666.80" y2="472.99" stroke="#5c6463" stroke-width="1.1" />
<line x1="477.60" y1="469.97" x2="666.80" y2="469.97" stroke="#5c6463" stroke-width="1.1" />
<line x1="477.60" y1="467.27" x2="666.80" y2="467.27" stroke="#333" stroke-width="1.4" />
<line x1="496.58" y1="449.50" x2="496.58" y2="585.30" stroke="#8d9493" stroke-width="1.1" />
<line x1="507.69" y1="449.50" x2="507.69" y2="585.30" stroke="#5c6463" stroke-width="1.1" />
<line x1="515.57" y1="449.50" x2="515.57" y2="585.30" stroke="#5c6463" stroke-width="1.1" />
<line x1="521.68" y1="449.50" x2="521.68" y2="585.30" stroke="#5c6463" stroke-width="1.1" />
<line x1="526.68" y1="449.50" x2="526.68" y2="585.30" stroke="#5c6463" stroke-width="1.1" />
<line x1="530.90" y1="449.50" x2="530.90" y2="585.30" stroke="#5c6463" stroke-width="1.1" />
<line x1="534.55" y1="449.50" x2="534.55" y2="585.30" stroke="#5c6463" stroke-width="1.1" />
<line x1="537.78" y1="449.50" x2="537.78" y2="585.30" stroke="#5c6463" stroke-width="1.1" />
<line x1="540.67" y1="449.50" x2="540.67" y2="585.30" stroke="#333" stroke-width="1.4" />
<line x1="559.65" y1="449.50" x2="559.65" y2="585.30" stroke="#8d9493" stroke-width="1.1" />
<line x1="570.76" y1="449.50" x2="570.76" y2="585.30" stroke="#5c6463" stroke-width="1.1" />
<line x1="578.64" y1="449.50" x2="578.64" y2="585.30" stroke="#5c6463" stroke-width="1.1" />
<line x1="584.75" y1="449.50" x2="584.75" y2="585.30" stroke="#5c6463" stroke-width="1.1" />
<line x1="589.74" y1="449.50" x2="589.74" y2="585.30" stroke="#5c6463" stroke-width="1.1" />
<line x1="593.96" y1="449.50" x2="593.96" y2="585.30" stroke="#5c6463" stroke-width="1.1" />
<line x1="597.62" y1="449.50" x2="597.62" y2="585.30" stroke="#5c6463" stroke-width="1.1" />
<line x1="600.85" y1="449.50" x2="600.85" y2="585.30" stroke="#5c6463" stroke-width="1.1" />
<line x1="603.73" y1="449.50" x2="603.73" y2="585.30" stroke="#333" stroke-width="1.4" />
<line x1="622.72" y1="449.50" x2="622.72" y2="585.30" stroke="#8d9493" stroke-width="1.1" />
<line x1="633.82" y1="449.50" x2="633.82" y2="585.30" stroke="#5c6463" stroke-width="1.1" />
<line x1="641.70" y1="449.50" x2="641.70" y2="585.30" stroke="#5c6463" stroke-width="1.1" />
<line x1="647.82" y1="449.50" x2="647.82" y2="585.30" stroke="#5c6463" stroke-width="1.1" />
<line x1="652.81" y1="449.50" x2="652.81" y2="585.30" stroke="#5c6463" stroke-width="1.1" />
<line x1="657.03" y1="449.50" x2="657.03" y2="585.30" stroke="#5c6463" stroke-width="1.1" />
<line x1="660.69" y1="449.50" x2="660.69" y2="585.30" stroke="#5c6463" stroke-width="1.1" />
<line x1="663.91" y1="449.50" x2="663.91" y2="585.30" stroke="#5c6463" stroke-width="1.1" />
<rect x="477.60" y="449.50" width="189.20" height="135.80" stroke="#1e1e1e" stroke-width="1.5" fill="none" />
<rect x="630.50" y="454.50" width="34.50" height="9.00" stroke="none" stroke-width="0" fill="#fff" />
<path d="M477.80,489.40 C483.07,489.80 498.95,490.92 509.40,491.80 C519.85,492.68 528.73,493.38 540.50,494.70 C552.27,496.02 569.52,498.23 580.00,499.70 C590.48,501.17 595.07,502.03 603.40,503.50 C611.73,504.97 620.85,506.57 630.00,508.50 C639.15,510.43 653.58,514.00 658.30,515.10" fill="none" stroke="#1d7d45" stroke-width="2.2"/>
<text x="634.5" y="461.5999999999999" font-size="6.6" font-weight="bold" letter-spacing="-0.2">T<tspan font-size="4.5" dy="1">J</tspan><tspan dy="-1">=25°C</tspan></text>
<text x="472.80" y="471.00" font-size="8.3" text-anchor="end">1000</text>
<text x="472.80" y="489.40" font-size="8.3" text-anchor="end">500</text>
<text x="472.80" y="531.00" font-size="8.3" text-anchor="end">100</text>
<text x="472.80" y="570.70" font-size="8.3" text-anchor="end">20</text>
<text x="472.80" y="587.40" font-size="8.3" text-anchor="end">10</text>
<text x="477.60" y="597.50" font-size="8.3" text-anchor="middle">0.1</text>
<text x="540.67" y="597.50" font-size="8.3" text-anchor="middle">1</text>
<text x="603.73" y="597.50" font-size="8.3" text-anchor="middle">10</text>
<text x="666.80" y="597.50" font-size="8.3" text-anchor="middle">100</text>
<text x="479.30" y="426.50" font-size="9.5" font-weight="bold" xml:space="preserve">Fig.4  Typical Junction Capacitance</text>
<text x="569.20" y="613.70" font-size="10" letter-spacing="0.05" text-anchor="middle" xml:space="preserve">Reverse  Voltage (V)</text>
<text transform="translate(446.40,526.90) rotate(-90)" text-anchor="middle" font-size="10" letter-spacing="0.07">Junction Capacitance (pF)</text>
<line x1="156.50" y1="727.25" x2="345.20" y2="727.25" stroke="#5c6463" stroke-width="1.1" />
<line x1="156.50" y1="744.20" x2="345.20" y2="744.20" stroke="#5c6463" stroke-width="1.1" />
<line x1="156.50" y1="761.15" x2="345.20" y2="761.15" stroke="#5c6463" stroke-width="1.1" />
<line x1="156.50" y1="778.10" x2="345.20" y2="778.10" stroke="#5c6463" stroke-width="1.1" />
<line x1="156.50" y1="795.05" x2="345.20" y2="795.05" stroke="#5c6463" stroke-width="1.1" />
<line x1="156.50" y1="812.00" x2="345.20" y2="812.00" stroke="#5c6463" stroke-width="1.1" />
<line x1="156.50" y1="828.95" x2="345.20" y2="828.95" stroke="#5c6463" stroke-width="1.1" />
<line x1="184.90" y1="710.30" x2="184.90" y2="820.60" stroke="#8d9493" stroke-width="1.1" />
<line x1="184.90" y1="710.30" x2="184.90" y2="820.60" stroke="#333" stroke-width="1.2" stroke-dasharray="1.5,9"/>
<line x1="201.52" y1="710.30" x2="201.52" y2="820.60" stroke="#5c6463" stroke-width="1.1" />
<line x1="213.30" y1="710.30" x2="213.30" y2="820.60" stroke="#5c6463" stroke-width="1.1" />
<line x1="222.45" y1="710.30" x2="222.45" y2="820.60" stroke="#5c6463" stroke-width="1.1" />
<line x1="229.92" y1="710.30" x2="229.92" y2="820.60" stroke="#5c6463" stroke-width="1.1" />
<line x1="236.24" y1="710.30" x2="236.24" y2="820.60" stroke="#5c6463" stroke-width="1.1" />
<line x1="241.71" y1="710.30" x2="241.71" y2="820.60" stroke="#5c6463" stroke-width="1.1" />
<line x1="246.53" y1="710.30" x2="246.53" y2="820.60" stroke="#5c6463" stroke-width="1.1" />
<line x1="250.85" y1="710.30" x2="250.85" y2="820.60" stroke="#333" stroke-width="1.4" />
<line x1="279.25" y1="710.30" x2="279.25" y2="845.90" stroke="#5c6463" stroke-width="1.1" />
<line x1="295.87" y1="710.30" x2="295.87" y2="845.90" stroke="#5c6463" stroke-width="1.1" />
<line x1="307.65" y1="710.30" x2="307.65" y2="845.90" stroke="#5c6463" stroke-width="1.1" />
<line x1="316.80" y1="710.30" x2="316.80" y2="845.90" stroke="#5c6463" stroke-width="1.1" />
<line x1="324.27" y1="710.30" x2="324.27" y2="845.90" stroke="#5c6463" stroke-width="1.1" />
<line x1="330.59" y1="710.30" x2="330.59" y2="845.90" stroke="#5c6463" stroke-width="1.1" />
<line x1="336.06" y1="710.30" x2="336.06" y2="845.90" stroke="#5c6463" stroke-width="1.1" />
<line x1="340.88" y1="710.30" x2="340.88" y2="845.90" stroke="#5c6463" stroke-width="1.1" />
<rect x="157.50" y="820.60" width="101.00" height="24.60" stroke="none" stroke-width="0" fill="#fff" />
<rect x="156.50" y="710.30" width="188.70" height="135.60" stroke="#1e1e1e" stroke-width="1.5" fill="none" />
<path d="M156.70,744.50 C158.83,745.98 164.78,750.53 169.50,753.40 C174.22,756.27 179.65,759.07 185.00,761.70 C190.35,764.33 195.42,766.47 201.60,769.20 C207.78,771.93 213.88,775.03 222.10,778.10 C230.32,781.17 241.43,785.02 250.90,787.60 C260.37,790.18 270.12,791.77 278.90,793.60 C287.68,795.43 294.68,797.25 303.60,798.60 C312.52,799.95 325.47,801.03 332.40,801.70 C339.33,802.37 343.07,802.45 345.20,802.60" fill="none" stroke="#1d7d45" stroke-width="2.2"/>
<text x="151.40" y="848.90" font-size="8.3" text-anchor="end">00</text>
<text x="151.40" y="831.95" font-size="8.3" text-anchor="end">25</text>
<text x="151.40" y="815.00" font-size="8.3" text-anchor="end">50</text>
<text x="151.40" y="798.05" font-size="8.3" text-anchor="end">75</text>
<text x="151.40" y="781.10" font-size="8.3" text-anchor="end">100</text>
<text x="151.40" y="764.15" font-size="8.3" text-anchor="end">125</text>
<text x="151.40" y="747.20" font-size="8.3" text-anchor="end">150</text>
<text x="151.40" y="730.25" font-size="8.3" text-anchor="end">175</text>
<text x="151.40" y="713.30" font-size="8.3" text-anchor="end">200</text>
<text x="156.50" y="855.40" font-size="8.3" text-anchor="middle">1</text>
<text x="250.85" y="855.40" font-size="8.3" text-anchor="middle">10</text>
<text x="345.20" y="855.40" font-size="8.3" text-anchor="middle">100</text>
<text x="160.80" y="831.60" font-size="7.1" font-weight="bold" letter-spacing="-0.12">8.3 ms Single Half Sine Wave</text>
<text x="160.80" y="840.60" font-size="7.1" font-weight="bold" letter-spacing="-0.12">(JEDEC Method)</text>
<text x="243.90" y="687.40" font-size="9.5" font-weight="bold" text-anchor="middle" xml:space="preserve">Fig.5  Maximum Non-Repetitive Peak</text>
<text x="243.90" y="698.20" font-size="9.5" font-weight="bold" text-anchor="middle">Forward Surage Current</text>
<text x="243.90" y="873.90" font-size="10" letter-spacing="0.05" text-anchor="middle">Number of Cycles at 60Hz</text>
<text transform="translate(125.75,776.50) rotate(-90)" text-anchor="middle" font-size="9.3" letter-spacing="0.0">Peak Forward Surage Current (A)</text>
<line x1="477.60" y1="824.92" x2="666.80" y2="824.92" stroke="#8d9493" stroke-width="1.1" />
<line x1="477.60" y1="813.00" x2="666.80" y2="813.00" stroke="#5c6463" stroke-width="1.1" />
<line x1="477.60" y1="804.54" x2="666.80" y2="804.54" stroke="#5c6463" stroke-width="1.1" />
<line x1="477.60" y1="797.98" x2="666.80" y2="797.98" stroke="#5c6463" stroke-width="1.1" />
<line x1="477.60" y1="792.62" x2="666.80" y2="792.62" stroke="#5c6463" stroke-width="1.1" />
<line x1="477.60" y1="788.09" x2="666.80" y2="788.09" stroke="#5c6463" stroke-width="1.1" />
<line x1="477.60" y1="784.16" x2="666.80" y2="784.16" stroke="#5c6463" stroke-width="1.1" />
<line x1="477.60" y1="780.70" x2="666.80" y2="780.70" stroke="#5c6463" stroke-width="1.1" />
<line x1="477.60" y1="777.60" x2="666.80" y2="777.60" stroke="#333" stroke-width="1.4" />
<line x1="477.60" y1="757.22" x2="666.80" y2="757.22" stroke="#8d9493" stroke-width="1.1" />
<line x1="477.60" y1="745.30" x2="666.80" y2="745.30" stroke="#5c6463" stroke-width="1.1" />
<line x1="477.60" y1="736.84" x2="666.80" y2="736.84" stroke="#5c6463" stroke-width="1.1" />
<line x1="477.60" y1="730.28" x2="666.80" y2="730.28" stroke="#5c6463" stroke-width="1.1" />
<line x1="477.60" y1="724.92" x2="666.80" y2="724.92" stroke="#5c6463" stroke-width="1.1" />
<line x1="477.60" y1="720.39" x2="666.80" y2="720.39" stroke="#5c6463" stroke-width="1.1" />
<line x1="477.60" y1="716.46" x2="666.80" y2="716.46" stroke="#5c6463" stroke-width="1.1" />
<line x1="477.60" y1="713.00" x2="666.80" y2="713.00" stroke="#5c6463" stroke-width="1.1" />
<line x1="491.84" y1="709.90" x2="491.84" y2="845.30" stroke="#8d9493" stroke-width="1.1" />
<line x1="491.84" y1="709.90" x2="491.84" y2="845.30" stroke="#333" stroke-width="1.2" stroke-dasharray="1.5,9"/>
<line x1="500.17" y1="709.90" x2="500.17" y2="845.30" stroke="#5c6463" stroke-width="1.1" />
<line x1="506.08" y1="709.90" x2="506.08" y2="845.30" stroke="#5c6463" stroke-width="1.1" />
<line x1="510.66" y1="709.90" x2="510.66" y2="845.30" stroke="#5c6463" stroke-width="1.1" />
<line x1="514.41" y1="709.90" x2="514.41" y2="845.30" stroke="#5c6463" stroke-width="1.1" />
<line x1="517.57" y1="709.90" x2="517.57" y2="845.30" stroke="#5c6463" stroke-width="1.1" />
<line x1="520.32" y1="709.90" x2="520.32" y2="845.30" stroke="#5c6463" stroke-width="1.1" />
<line x1="522.74" y1="709.90" x2="522.74" y2="845.30" stroke="#5c6463" stroke-width="1.1" />
<line x1="524.90" y1="709.90" x2="524.90" y2="845.30" stroke="#333" stroke-width="1.4" />
<line x1="539.14" y1="709.90" x2="539.14" y2="845.30" stroke="#8d9493" stroke-width="1.1" />
<line x1="547.47" y1="709.90" x2="547.47" y2="845.30" stroke="#5c6463" stroke-width="1.1" />
<line x1="553.38" y1="709.90" x2="553.38" y2="845.30" stroke="#5c6463" stroke-width="1.1" />
<line x1="557.96" y1="709.90" x2="557.96" y2="845.30" stroke="#5c6463" stroke-width="1.1" />
<line x1="561.71" y1="709.90" x2="561.71" y2="845.30" stroke="#5c6463" stroke-width="1.1" />
<line x1="564.87" y1="709.90" x2="564.87" y2="845.30" stroke="#5c6463" stroke-width="1.1" />
<line x1="567.62" y1="709.90" x2="567.62" y2="845.30" stroke="#5c6463" stroke-width="1.1" />
<line x1="570.04" y1="709.90" x2="570.04" y2="845.30" stroke="#5c6463" stroke-width="1.1" />
<line x1="572.20" y1="709.90" x2="572.20" y2="845.30" stroke="#333" stroke-width="1.4" />
<line x1="586.44" y1="709.90" x2="586.44" y2="845.30" stroke="#8d9493" stroke-width="1.1" />
<line x1="594.77" y1="709.90" x2="594.77" y2="845.30" stroke="#5c6463" stroke-width="1.1" />
<line x1="600.68" y1="709.90" x2="600.68" y2="845.30" stroke="#5c6463" stroke-width="1.1" />
<line x1="605.26" y1="709.90" x2="605.26" y2="845.30" stroke="#5c6463" stroke-width="1.1" />
<line x1="609.01" y1="709.90" x2="609.01" y2="845.30" stroke="#5c6463" stroke-width="1.1" />
<line x1="612.17" y1="709.90" x2="612.17" y2="845.30" stroke="#5c6463" stroke-width="1.1" />
<line x1="614.92" y1="709.90" x2="614.92" y2="845.30" stroke="#5c6463" stroke-width="1.1" />
<line x1="617.34" y1="709.90" x2="617.34" y2="845.30" stroke="#5c6463" stroke-width="1.1" />
<line x1="619.50" y1="709.90" x2="619.50" y2="845.30" stroke="#333" stroke-width="1.4" />
<line x1="633.74" y1="709.90" x2="633.74" y2="845.30" stroke="#8d9493" stroke-width="1.1" />
<line x1="642.07" y1="709.90" x2="642.07" y2="845.30" stroke="#5c6463" stroke-width="1.1" />
<line x1="647.98" y1="709.90" x2="647.98" y2="845.30" stroke="#5c6463" stroke-width="1.1" />
<line x1="652.56" y1="709.90" x2="652.56" y2="845.30" stroke="#5c6463" stroke-width="1.1" />
<line x1="656.31" y1="709.90" x2="656.31" y2="845.30" stroke="#5c6463" stroke-width="1.1" />
<line x1="659.47" y1="709.90" x2="659.47" y2="845.30" stroke="#5c6463" stroke-width="1.1" />
<line x1="662.22" y1="709.90" x2="662.22" y2="845.30" stroke="#5c6463" stroke-width="1.1" />
<line x1="664.64" y1="709.90" x2="664.64" y2="845.30" stroke="#5c6463" stroke-width="1.1" />
<rect x="477.60" y="709.90" width="189.20" height="135.40" stroke="#1e1e1e" stroke-width="1.5" fill="none" />
<path d="M477.8,814.5999999999999 L563.4,746 C564.75,745.50 567.45,744.35 571.50,743.00 C575.55,741.65 582.32,739.43 587.70,737.90 C593.08,736.37 598.62,734.95 603.80,733.80 C608.98,732.65 613.80,731.85 618.80,731.00 C623.80,730.15 628.62,729.40 633.80,728.70 C638.98,728.00 644.53,727.38 649.90,726.80 C655.27,726.22 663.32,725.47 666.00,725.20" fill="none" stroke="#1d7d45" stroke-width="2.2" stroke-linejoin="round"/>
<text x="472.80" y="848.30" font-size="8.3" text-anchor="end">1</text>
<text x="472.80" y="780.60" font-size="8.3" text-anchor="end">10</text>
<text x="472.80" y="712.90" font-size="8.3" text-anchor="end">100</text>
<text x="477.60" y="858.60" font-size="8.3" text-anchor="middle">0.01</text>
<text x="524.90" y="858.60" font-size="8.3" text-anchor="middle">0.1</text>
<text x="572.20" y="858.60" font-size="8.3" text-anchor="middle">1</text>
<text x="619.50" y="858.60" font-size="8.3" text-anchor="middle">10</text>
<text x="666.80" y="858.60" font-size="8.3" text-anchor="middle">100</text>
<text x="467.90" y="687.30" font-size="9.5" font-weight="bold">Fig.6- Typical Transient Thermal Impedance</text>
<text x="571.30" y="874.90" font-size="10" letter-spacing="0.05" text-anchor="middle">t, Pulse Duration ( sec )</text>
<text transform="translate(446.40,776.00) rotate(-90)" text-anchor="middle" font-size="10" letter-spacing="0.0">Transient Thermal Impedance ( °C/W )</text>
<line x1="42.30" y1="1062.50" x2="750.80" y2="1062.50" stroke="#111" stroke-width="2.2" stroke-linecap="round"/>
<text x="345.00" y="1079.20" font-size="13" letter-spacing="0.22">www.ejiguan.cn</text>
<text x="665.20" y="1078.60" font-size="13" letter-spacing="1.0" word-spacing="2.6" font-style="italic">Page 2 of 3</text></svg><svg width="793" height="1122" viewBox="0 0 793 1122"><path d="M58.93,65.40 A28.7,28.7 0 0 0 105.47,65.40 Z" fill="#1f4f9a"/>
<path d="M108.00,36.02 A28.7,28.7 0 1 0 110.27,42.63" fill="none" stroke="#1f4f9a" stroke-width="3.3"/>
<path d="M59.8,41 L73,56 M73,41 L59.8,56" stroke="#1f4f9a" stroke-width="3.7" fill="none"/>
<path d="M76.8,56 L81.6,50 M84.6,46.4 L89.6,41" stroke="#3aaa3c" stroke-width="3.6" fill="none"/>
<path d="M79.2,41 L88.4,55 Q88.9,56.2 89.6,55 L94.6,46 Q95.6,44.2 96.6,46 L101.6,55 Q102.3,56.2 103,55 L110.6,41.5" stroke="#1f4f9a" stroke-width="3.6" fill="none" stroke-linejoin="round"/>
<path d="M69.5,71.7 H96" stroke="#fff" stroke-width="1.8"/>
<path d="M77,66.6 L86.6,71.7 L77,77.2 Z" fill="#fff"/>
<path d="M87.9,66.4 V77.4" stroke="#fff" stroke-width="1.8"/>
<text transform="translate(117.3,63.2) scale(1.03,0.94)" font-size="37" font-weight="500" font-family="'Liberation Sans', 'Noto Sans CJK SC', sans-serif" fill="#151515" style="stroke:#151515;stroke-width:0.4px">烜芯微</text>
<text x="118.30" y="77.60" font-size="12.1" letter-spacing="4.05">XUANXINWEI</text>
<text x="650.20" y="79.70" font-size="23" font-weight="bold" letter-spacing="-0.1" fill="#111" style="stroke:#111">SSL510F</text>
<line x1="46.00" y1="87.60" x2="752.50" y2="87.60" stroke="#2b2e8e" stroke-width="2.6" stroke-linecap="round"/>
<text x="121.30" y="141.80" font-size="16" font-weight="bold" letter-spacing="0.5" word-spacing="-0.6" xml:space="preserve">PACKAGE  OUTLINE</text>
<text x="121.30" y="166.50" font-size="13.5" font-weight="bold">Plastic surface mounted package; 2 leads</text>
<text x="590.80" y="169.00" font-size="13" font-weight="bold" letter-spacing="0.2" fill="#4b7b78" style="stroke:#4b7b78">SMAF</text>
<rect x="113.30" y="181.60" width="567.10" height="494.60" stroke="#1e1e1e" stroke-width="1.4" fill="none" />
<rect x="239.60" y="275.40" width="137.00" height="4.30" stroke="#333" stroke-width="0.9" fill="#e9e9e9" />
<path d="M254.6,277.8000000000002 L257.6,250.80000000000018 Q258,247.5999999999999 261.5,247.5999999999999 L355,247.5999999999999 Q358.4,247.5999999999999 358.8,250.80000000000018 L361.2,277.8000000000002 Z" fill="#a9a9a9" stroke="#2a2a2a" stroke-width="1.1"/>
<path d="M254.8,278.5999999999999 L265,278.5999999999999 M350,278.5999999999999 L361,278.5999999999999" stroke="#333" stroke-width="1.6"/>
<line x1="255.10" y1="224.80" x2="255.10" y2="276.50" stroke="#333" stroke-width="0.8" />
<line x1="258.20" y1="224.80" x2="255.30" y2="276.50" stroke="#333" stroke-width="0.8" />
<path d="M237.3,227.80000000000018 Q255.8,221.19999999999982 273.9,228.4000000000001" fill="none" stroke="#444" stroke-width="0.7"/>
<text x="271.2" y="223.40" font-size="8.3" font-weight="bold" letter-spacing="-0.1" fill="#333"><tspan fill="#4a68a8" font-weight="normal">∠</tspan>ALL ROUND</text>
<line x1="307.90" y1="235.70" x2="307.90" y2="294.30" stroke="#333" stroke-width="0.8" stroke-dasharray="3,1.2,0.8,1.2"/>
<line x1="201.70" y1="274.70" x2="235.40" y2="274.70" stroke="#333" stroke-width="0.8" />
<line x1="201.70" y1="280.20" x2="235.40" y2="280.20" stroke="#333" stroke-width="0.8" />
<line x1="210.00" y1="257.50" x2="210.00" y2="274.70" stroke="#333" stroke-width="0.8" />
<polygon points="210,274.6999999999998 208.65,269.6999999999998 211.35,269.6999999999998" fill="#222"/>
<line x1="210.00" y1="280.20" x2="210.00" y2="291.50" stroke="#333" stroke-width="0.8" />
<polygon points="210,280.1999999999998 208.65,285.1999999999998 211.35,285.1999999999998" fill="#222"/>
<text transform="translate(199.2,278.10) rotate(-90)" text-anchor="middle" font-size="10.5" font-weight="bold">C</text>
<line x1="239.60" y1="286.30" x2="239.60" y2="313.20" stroke="#333" stroke-width="0.8" />
<line x1="375.90" y1="286.30" x2="375.90" y2="313.20" stroke="#333" stroke-width="1.0" />
<line x1="239.60" y1="308.80" x2="298.50" y2="308.80" stroke="#333" stroke-width="0.8" />
<line x1="316.00" y1="308.80" x2="375.90" y2="308.80" stroke="#333" stroke-width="0.8" />
<polygon points="239.6,308.8000000000002 244.6,307.45000000000016 244.6,310.1500000000002" fill="#222"/>
<polygon points="375.9,308.8000000000002 370.9,307.45000000000016 370.9,310.1500000000002" fill="#222"/>
<text x="301.8" y="312.40" font-size="9">H<tspan font-size="6" dy="1">E</tspan></text>
<line x1="362.50" y1="247.30" x2="417.80" y2="247.30" stroke="#333" stroke-width="0.8" />
<line x1="382.30" y1="278.40" x2="417.80" y2="278.40" stroke="#333" stroke-width="0.8" />
<line x1="410.50" y1="247.30" x2="410.50" y2="278.40" stroke="#333" stroke-width="0.8" />
<polygon points="410.5,247.30000000000018 409.15,252.30000000000018 411.85,252.30000000000018" fill="#222"/>
<polygon points="410.5,278.4000000000001 409.15,273.4000000000001 411.85,273.4000000000001" fill="#222"/>
<text transform="translate(406.8,263.20) rotate(-90)" text-anchor="middle" font-size="9">A</text>
<line x1="380.00" y1="308.80" x2="397.50" y2="308.80" stroke="#333" stroke-width="0.8" />
<polygon points="376.5,308.8000000000002 381.5,307.45000000000016 381.5,310.1500000000002" fill="#222"/>
<rect x="397.50" y="304.00" width="40.10" height="9.50" stroke="#222" stroke-width="0.9" fill="#fff" />
<line x1="405.80" y1="304.00" x2="405.80" y2="313.50" stroke="#222" stroke-width="0.8" />
<line x1="413.60" y1="304.00" x2="413.60" y2="313.50" stroke="#222" stroke-width="0.8" />
<line x1="427.50" y1="304.00" x2="427.50" y2="313.50" stroke="#222" stroke-width="0.8" />
<circle cx="401.7" cy="308.75" r="2.4" fill="none" stroke="#222" stroke-width="0.6"/>
<line x1="399.30" y1="308.75" x2="404.10" y2="308.75" stroke="#222" stroke-width="0.6" />
<line x1="401.70" y1="306.35" x2="401.70" y2="311.15" stroke="#222" stroke-width="0.6" />
<text x="407.60" y="311.30" font-size="5.5">V</text>
<circle cx="420.5" cy="308.75" r="3.4" fill="none" stroke="#222" stroke-width="0.9"/>
<text x="420.50" y="310.70" font-size="5" text-anchor="middle">M</text>
<text x="432.50" y="311.30" font-size="5.5" text-anchor="middle">A</text>
<path d="M495.4,276.1999999999998 L497.3,251 Q497.8,247.5999999999999 501.5,247.5999999999999 L565,247.5999999999999 Q568.4,247.5999999999999 568.8,251 L571.3,276.1999999999998 Q571.5,279.4000000000001 568,279.4000000000001 L498.5,279.4000000000001 Q495.2,279.4000000000001 495.4,276.1999999999998 Z" fill="#a9a9a9" stroke="#2a2a2a" stroke-width="1.1"/>
<line x1="495.60" y1="274.60" x2="571.20" y2="274.60" stroke="#555" stroke-width="0.7" />
<rect x="511.60" y="275.30" width="43.10" height="4.50" stroke="#333" stroke-width="0.9" fill="#e9e9e9" />
<line x1="495.40" y1="224.80" x2="495.40" y2="276.20" stroke="#333" stroke-width="0.8" />
<line x1="498.20" y1="224.80" x2="495.60" y2="276.20" stroke="#333" stroke-width="0.8" />
<path d="M480,226.80000000000018 Q496.5,221.19999999999982 514.6,228.4000000000001" fill="none" stroke="#444" stroke-width="0.7"/>
<text x="512.4" y="223.60" font-size="8.3" font-weight="bold" letter-spacing="-0.1" fill="#333"><tspan fill="#4a68a8" font-weight="normal">∠</tspan>ALL ROUND</text>
<line x1="533.00" y1="236.70" x2="533.00" y2="289.10" stroke="#333" stroke-width="0.8" stroke-dasharray="3,1.2,0.8,1.2"/>
<line x1="495.40" y1="284.20" x2="495.40" y2="312.80" stroke="#333" stroke-width="0.8" />
<line x1="571.00" y1="284.20" x2="571.00" y2="312.80" stroke="#333" stroke-width="0.8" />
<line x1="495.40" y1="307.90" x2="527.00" y2="307.90" stroke="#333" stroke-width="0.8" />
<line x1="541.50" y1="307.90" x2="571.00" y2="307.90" stroke="#333" stroke-width="0.8" />
<polygon points="495.4,307.9000000000001 500.4,306.55000000000007 500.4,309.2500000000001" fill="#222"/>
<polygon points="571,307.9000000000001 566.0,306.55000000000007 566.0,309.2500000000001" fill="#222"/>
<text x="534.40" y="311.40" font-size="9.5" text-anchor="middle">E</text>
<rect x="239.70" y="405.80" width="16.00" height="42.80" stroke="#333" stroke-width="0.9" fill="#e9e9e9" />
<rect x="359.50" y="405.80" width="17.20" height="42.80" stroke="#333" stroke-width="0.9" fill="#e9e9e9" />
<rect x="255.20" y="389.50" width="105.20" height="75.40" stroke="#2a2a2a" stroke-width="1.3" fill="#c4c4c4" rx="5"/>
<rect x="257.40" y="391.70" width="100.80" height="71.00" stroke="#333" stroke-width="0.7" fill="none" rx="3.5"/>
<line x1="224.40" y1="426.50" x2="391.20" y2="426.50" stroke="#333" stroke-width="0.8" stroke-dasharray="3,1.2,0.8,1.2"/>
<line x1="307.80" y1="386.00" x2="307.80" y2="469.00" stroke="#333" stroke-width="0.8" stroke-dasharray="3,1.2,0.8,1.2"/>
<line x1="255.20" y1="363.50" x2="255.20" y2="386.00" stroke="#333" stroke-width="0.8" />
<line x1="360.40" y1="363.50" x2="360.40" y2="386.00" stroke="#333" stroke-width="0.8" />
<line x1="255.20" y1="369.60" x2="300.00" y2="369.60" stroke="#333" stroke-width="0.8" />
<line x1="314.00" y1="369.60" x2="360.40" y2="369.60" stroke="#333" stroke-width="0.8" />
<polygon points="255.2,369.5999999999999 260.2,368.2499999999999 260.2,370.94999999999993" fill="#222"/>
<polygon points="360.4,369.5999999999999 355.4,368.2499999999999 355.4,370.94999999999993" fill="#222"/>
<text x="306.80" y="373.00" font-size="9.5" text-anchor="middle">D</text>
<line x1="361.00" y1="369.60" x2="373.50" y2="369.60" stroke="#333" stroke-width="0.8" />
<line x1="363.50" y1="366.60" x2="363.50" y2="372.60" stroke="#333" stroke-width="0.8" />
<circle cx="377.6" cy="369.60" r="3.9" fill="#fff" stroke="#222" stroke-width="0.8"/>
<text x="377.60" y="371.90" font-size="6.2" text-anchor="middle">A</text>
<line x1="207.40" y1="389.50" x2="244.40" y2="389.50" stroke="#333" stroke-width="0.8" />
<line x1="207.40" y1="464.90" x2="244.40" y2="464.90" stroke="#333" stroke-width="0.8" />
<line x1="212.50" y1="389.50" x2="212.50" y2="421.00" stroke="#333" stroke-width="0.8" />
<line x1="212.50" y1="433.00" x2="212.50" y2="464.90" stroke="#333" stroke-width="0.8" />
<polygon points="212.5,389.5 211.15,394.5 213.85,394.5" fill="#222"/>
<polygon points="212.5,464.9000000000001 211.15,459.9000000000001 213.85,459.9000000000001" fill="#222"/>
<text transform="translate(215.0,426.80) rotate(-90)" text-anchor="middle" font-size="9.5">E</text>
<text x="306.00" y="482.60" font-size="9" letter-spacing="-0.2" text-anchor="middle">Top View</text>
<rect x="479.80" y="389.50" width="106.20" height="75.40" stroke="#2a2a2a" stroke-width="1.3" fill="#c4c4c4" rx="5"/>
<rect x="482.00" y="391.70" width="101.80" height="71.00" stroke="#333" stroke-width="0.7" fill="none" rx="3.5"/>
<rect x="464.60" y="405.80" width="26.80" height="42.40" stroke="#333" stroke-width="0.9" fill="#e9e9e9" />
<rect x="574.80" y="405.80" width="26.40" height="42.40" stroke="#333" stroke-width="0.9" fill="#e9e9e9" />
<text transform="translate(480.4,427.30) rotate(-90)" text-anchor="middle" font-size="7" font-weight="bold">pad</text>
<text transform="translate(590.2,427.30) rotate(-90)" text-anchor="middle" font-size="7" font-weight="bold">pad</text>
<line x1="464.60" y1="366.50" x2="464.60" y2="401.40" stroke="#333" stroke-width="0.8" />
<line x1="491.40" y1="366.50" x2="491.40" y2="402.00" stroke="#222" stroke-width="1.0" />
<line x1="464.60" y1="372.30" x2="491.40" y2="372.30" stroke="#333" stroke-width="0.8" />
<polygon points="464.6,372.3000000000002 469.6,370.95000000000016 469.6,373.6500000000002" fill="#222"/>
<polygon points="491.4,372.3000000000002 486.4,370.95000000000016 486.4,373.6500000000002" fill="#222"/>
<text x="478.00" y="368.20" font-size="9" text-anchor="middle">g</text>
<line x1="574.80" y1="366.50" x2="574.80" y2="401.40" stroke="#333" stroke-width="0.8" />
<line x1="601.20" y1="366.50" x2="601.20" y2="402.00" stroke="#222" stroke-width="1.0" />
<line x1="574.80" y1="372.30" x2="601.20" y2="372.30" stroke="#333" stroke-width="0.8" />
<polygon points="574.8,372.3000000000002 579.8,370.95000000000016 579.8,373.6500000000002" fill="#222"/>
<polygon points="601.2,372.3000000000002 596.2,370.95000000000016 596.2,373.6500000000002" fill="#222"/>
<text x="588.00" y="368.20" font-size="9" text-anchor="middle">g</text>
<line x1="434.50" y1="405.80" x2="458.70" y2="405.80" stroke="#333" stroke-width="0.8" />
<line x1="434.50" y1="448.20" x2="458.70" y2="448.20" stroke="#333" stroke-width="0.8" />
<line x1="440.00" y1="405.80" x2="440.00" y2="448.20" stroke="#333" stroke-width="0.8" />
<polygon points="440,405.8000000000002 438.65,410.8000000000002 441.35,410.8000000000002" fill="#222"/>
<polygon points="440,448.1999999999998 438.65,443.1999999999998 441.35,443.1999999999998" fill="#222"/>
<text transform="translate(435.6,426.80) rotate(-90)" text-anchor="middle" font-size="9.5">e</text>
<text x="534.20" y="484.50" font-size="9" letter-spacing="0.1" text-anchor="middle" xml:space="preserve">Bottom  View</text>
<rect x="169.90" y="525.90" width="454.30" height="112.50" stroke="#1e1e1e" stroke-width="1.3" fill="none" />
<line x1="216.10" y1="525.90" x2="216.10" y2="638.40" stroke="#222" stroke-width="1.0" />
<line x1="260.80" y1="525.90" x2="260.80" y2="638.40" stroke="#222" stroke-width="1.0" />
<line x1="306.30" y1="525.90" x2="306.30" y2="638.40" stroke="#222" stroke-width="1.0" />
<line x1="351.80" y1="525.90" x2="351.80" y2="638.40" stroke="#222" stroke-width="1.0" />
<line x1="397.20" y1="525.90" x2="397.20" y2="638.40" stroke="#222" stroke-width="1.0" />
<line x1="442.30" y1="525.90" x2="442.30" y2="638.40" stroke="#222" stroke-width="1.0" />
<line x1="487.80" y1="525.90" x2="487.80" y2="638.40" stroke="#222" stroke-width="1.0" />
<line x1="533.30" y1="525.90" x2="533.30" y2="638.40" stroke="#222" stroke-width="1.0" />
<line x1="578.70" y1="525.90" x2="578.70" y2="638.40" stroke="#222" stroke-width="1.0" />
<line x1="169.90" y1="548.40" x2="624.20" y2="548.40" stroke="#222" stroke-width="1.0" />
<line x1="169.90" y1="594.00" x2="578.70" y2="594.00" stroke="#222" stroke-width="1.0" />
<line x1="216.10" y1="571.40" x2="578.70" y2="571.40" stroke="#222" stroke-width="1.0" />
<line x1="216.10" y1="616.60" x2="578.70" y2="616.60" stroke="#222" stroke-width="1.0" />
<text x="193.00" y="541.55" font-size="12.5" letter-spacing="0.3" text-anchor="middle">UNIT</text>
<text x="283.55" y="541.55" font-size="12.5" text-anchor="middle">A</text>
<text x="329.05" y="541.55" font-size="12.5" text-anchor="middle">C</text>
<text x="374.50" y="541.55" font-size="12.5" text-anchor="middle">D</text>
<text x="419.75" y="541.55" font-size="12.5" text-anchor="middle">E</text>
<text x="465.05" y="541.55" font-size="12.5" text-anchor="middle">e</text>
<text x="510.55" y="541.55" font-size="12.5" text-anchor="middle">g</text>
<text x="556.00" y="541.55" text-anchor="middle" font-size="10">H<tspan font-size="6.5" dy="1">E</tspan></text>
<text x="601.45" y="541.55" font-size="10" text-anchor="middle">∠</text>
<text x="238.45" y="562.80" font-size="12.5" letter-spacing="0.5" text-anchor="middle">max</text>
<text x="283.55" y="564.30" font-size="12.5" letter-spacing="0.6" text-anchor="middle">1.2</text>
<text x="329.05" y="564.30" font-size="12.5" letter-spacing="0.6" text-anchor="middle">0.20</text>
<text x="374.50" y="564.30" font-size="12.5" letter-spacing="0.6" text-anchor="middle">3.7</text>
<text x="419.75" y="564.30" font-size="12.5" letter-spacing="0.6" text-anchor="middle">2.7</text>
<text x="465.05" y="564.30" font-size="12.5" letter-spacing="0.6" text-anchor="middle">1.6</text>
<text x="510.55" y="564.30" font-size="12.5" letter-spacing="0.6" text-anchor="middle">1.2</text>
<text x="556.00" y="564.30" font-size="12.5" letter-spacing="0.6" text-anchor="middle">4.9</text>
<text x="238.45" y="586.50" font-size="12.5" letter-spacing="0.5" text-anchor="middle">min</text>
<text x="283.55" y="587.90" font-size="12.5" letter-spacing="0.6" text-anchor="middle">0.9</text>
<text x="329.05" y="587.90" font-size="12.5" letter-spacing="0.6" text-anchor="middle">0.12</text>
<text x="374.50" y="587.90" font-size="12.5" letter-spacing="0.6" text-anchor="middle">3.3</text>
<text x="419.75" y="587.90" font-size="12.5" letter-spacing="0.6" text-anchor="middle">2.4</text>
<text x="465.05" y="587.90" font-size="12.5" letter-spacing="0.6" text-anchor="middle">1.3</text>
<text x="510.55" y="587.90" font-size="12.5" letter-spacing="0.6" text-anchor="middle">0.8</text>
<text x="556.00" y="587.90" font-size="12.5" letter-spacing="0.6" text-anchor="middle">4.4</text>
<text x="238.45" y="608.20" font-size="12.5" letter-spacing="0.5" text-anchor="middle">max</text>
<text x="283.55" y="609.70" font-size="12.5" letter-spacing="0.6" text-anchor="middle">47</text>
<text x="329.05" y="609.70" font-size="12.5" letter-spacing="0.6" text-anchor="middle">7.9</text>
<text x="374.50" y="609.70" font-size="12.5" letter-spacing="0.6" text-anchor="middle">146</text>
<text x="419.75" y="609.70" font-size="12.5" letter-spacing="0.6" text-anchor="middle">106</text>
<text x="465.05" y="609.70" font-size="12.5" letter-spacing="0.6" text-anchor="middle">63</text>
<text x="510.55" y="609.70" font-size="12.5" letter-spacing="0.6" text-anchor="middle">47</text>
<text x="556.00" y="609.70" font-size="12.5" letter-spacing="0.6" text-anchor="middle">193</text>
<text x="238.45" y="631.30" font-size="12.5" letter-spacing="0.5" text-anchor="middle">min</text>
<text x="283.55" y="632.70" font-size="12.5" letter-spacing="0.6" text-anchor="middle">35</text>
<text x="329.05" y="632.70" font-size="12.5" letter-spacing="0.6" text-anchor="middle">4.7</text>
<text x="374.50" y="632.70" font-size="12.5" letter-spacing="0.6" text-anchor="middle">130</text>
<text x="419.75" y="632.70" font-size="12.5" letter-spacing="0.6" text-anchor="middle">94</text>
<text x="465.05" y="632.70" font-size="12.5" letter-spacing="0.6" text-anchor="middle">51</text>
<text x="510.55" y="632.70" font-size="12.5" letter-spacing="0.6" text-anchor="middle">31</text>
<text x="556.00" y="632.70" font-size="12.5" letter-spacing="0.6" text-anchor="middle">173</text>
<text x="193.00" y="573.80" font-size="12.5" letter-spacing="0.5" text-anchor="middle">mm</text>
<text x="193.00" y="619.00" font-size="12.5" letter-spacing="0.5" text-anchor="middle">mil</text>
<text x="602.45" y="597.80" font-size="12.5" text-anchor="middle">7°</text>
<text x="121.80" y="750.60" font-size="13" font-weight="bold" letter-spacing="0.25">The recommended mounting pad size</text>
<rect x="112.90" y="770.80" width="319.90" height="154.50" stroke="#1e1e1e" stroke-width="1.3" fill="none" />
<path d="M172.5,831 L219.1,831 L226.1,838 L226.1,892.8000000000002 L219.1,899.8000000000002 L172.5,899.8000000000002 L165.5,892.8000000000002 L165.5,838 Z" fill="#d9d9d9" stroke="#2a2a2a" stroke-width="1"/>
<rect x="308.80" y="831.00" width="60.50" height="68.80" stroke="#2a2a2a" stroke-width="1" fill="#d9d9d9" />
<line x1="147.30" y1="865.20" x2="386.60" y2="865.20" stroke="#222" stroke-width="0.9" stroke-dasharray="2.4,1.4"/>
<line x1="165.50" y1="800.60" x2="165.50" y2="824.40" stroke="#222" stroke-width="1.0" />
<line x1="226.10" y1="800.60" x2="226.10" y2="824.40" stroke="#222" stroke-width="1.0" />
<line x1="308.80" y1="800.60" x2="308.80" y2="824.40" stroke="#222" stroke-width="1.0" />
<line x1="369.30" y1="800.60" x2="369.30" y2="824.40" stroke="#222" stroke-width="1.0" />
<line x1="165.50" y1="804.10" x2="226.10" y2="804.10" stroke="#333" stroke-width="0.8" />
<polygon points="165.5,804.0999999999999 170.5,802.7499999999999 170.5,805.4499999999999" fill="#222"/>
<polygon points="226.1,804.0999999999999 221.1,802.7499999999999 221.1,805.4499999999999" fill="#222"/>
<line x1="226.10" y1="804.10" x2="308.80" y2="804.10" stroke="#333" stroke-width="0.8" />
<polygon points="226.1,804.0999999999999 231.1,802.7499999999999 231.1,805.4499999999999" fill="#222"/>
<polygon points="308.8,804.0999999999999 303.8,802.7499999999999 303.8,805.4499999999999" fill="#222"/>
<line x1="308.80" y1="804.10" x2="369.30" y2="804.10" stroke="#333" stroke-width="0.8" />
<polygon points="308.8,804.0999999999999 313.8,802.7499999999999 313.8,805.4499999999999" fill="#222"/>
<polygon points="369.3,804.0999999999999 364.3,802.7499999999999 364.3,805.4499999999999" fill="#222"/>
<text x="194.20" y="800.80" font-size="8.5" letter-spacing="0.2" text-anchor="middle">1.6</text>
<text x="194.20" y="812.40" font-size="8.5" letter-spacing="0.2" text-anchor="middle">(63)</text>
<text x="266.60" y="800.80" font-size="8.5" letter-spacing="0.2" text-anchor="middle">2.2</text>
<text x="266.60" y="812.40" font-size="8.5" letter-spacing="0.2" text-anchor="middle">(86)</text>
<text x="338.50" y="800.80" font-size="8.5" letter-spacing="0.2" text-anchor="middle">1.6</text>
<text x="338.50" y="812.40" font-size="8.5" letter-spacing="0.2" text-anchor="middle">(63)</text>
<line x1="376.50" y1="831.00" x2="401.50" y2="831.00" stroke="#333" stroke-width="0.8" />
<line x1="376.50" y1="899.80" x2="401.50" y2="899.80" stroke="#333" stroke-width="0.8" />
<line x1="398.20" y1="831.00" x2="398.20" y2="899.80" stroke="#333" stroke-width="0.8" />
<polygon points="398.2,831 396.84999999999997,836.0 399.55,836.0" fill="#222"/>
<polygon points="398.2,899.8000000000002 396.84999999999997,894.8000000000002 399.55,894.8000000000002" fill="#222"/>
<text transform="translate(394.2,865.50) rotate(-90)" text-anchor="middle" font-size="8.5">1.8</text>
<text transform="translate(408.3,865.50) rotate(-90)" text-anchor="middle" font-size="8.5">(71)</text>
<text x="382.40" y="916.20" font-size="7.6" font-weight="bold" letter-spacing="0.1" fill="#333" style="stroke:#333">Unit :</text>
<text x="415.50" y="911.60" font-size="7.4" text-anchor="middle" fill="#333" style="stroke:#333">mm</text>
<line x1="406.80" y1="913.80" x2="424.10" y2="913.80" stroke="#333" stroke-width="0.7" />
<text x="415.50" y="920.70" font-size="7.4" font-weight="bold" text-anchor="middle" fill="#333" style="stroke:#333">(mil)</text>
<text x="491.30" y="755.80" font-size="13.5" font-weight="bold">Marking</text>
<rect x="491.60" y="771.00" width="188.70" height="40.90" stroke="#1e1e1e" stroke-width="1.3" fill="none" />
<line x1="491.60" y1="792.90" x2="680.30" y2="792.90" stroke="#222" stroke-width="1.1" />
<line x1="586.30" y1="771.00" x2="586.30" y2="811.90" stroke="#222" stroke-width="1.1" />
<text x="509.60" y="785.20" font-size="11" letter-spacing="0.45">Type number</text>
<text x="596.00" y="785.20" font-size="11" letter-spacing="0.45">Marking code</text>
<text x="524.00" y="805.80" font-size="9.6" letter-spacing="0.35">SSL510F</text>
<text x="619.50" y="805.80" font-size="9.6" letter-spacing="0.35">SL510</text>
<line x1="42.30" y1="1062.50" x2="750.80" y2="1062.50" stroke="#111" stroke-width="2.2" stroke-linecap="round"/>
<text x="345.00" y="1079.20" font-size="13" letter-spacing="0.22">www.ejiguan.cn</text>
<text x="665.20" y="1078.60" font-size="13" letter-spacing="1.0" word-spacing="2.6" font-style="italic">Page 3 of 3</text></svg>
</body></html>
